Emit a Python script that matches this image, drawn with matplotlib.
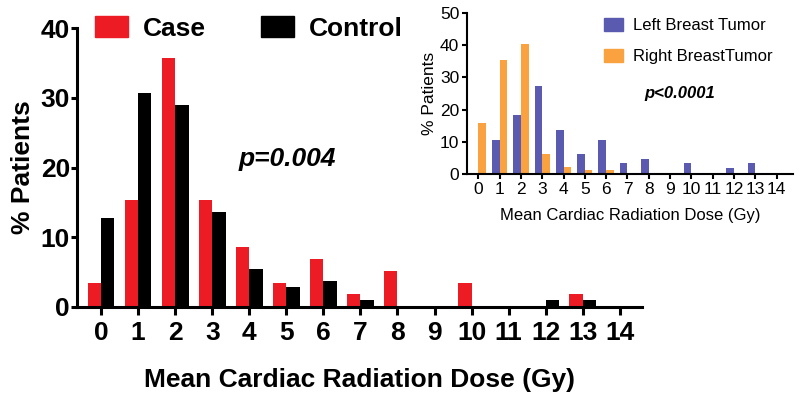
import numpy as np
import matplotlib
matplotlib.use("Agg")
import matplotlib.pyplot as plt
from matplotlib.patches import Patch

plt.rcParams["font.family"] = ["Liberation Sans", "DejaVu Sans"]

# -------- Data --------
doses = list(range(15))
case_pct    = [3.5, 15.4, 35.7, 15.4, 8.6, 3.5, 6.9, 1.8, 5.2, 0, 3.5, 0, 0, 1.8, 0]
control_pct = [12.7, 30.7, 28.9, 13.6, 5.5, 2.9, 3.7, 1.05, 0, 0, 0, 0, 1.05, 1.05, 0]

left_pct  = [0, 10.7, 18.3, 27.3, 13.8, 6.2, 10.7, 3.3, 4.6, 0, 3.3, 0, 1.8, 3.3, 0]
right_pct = [15.9, 35.3, 40.2, 6.1, 2.2, 1.2, 1.2, 0, 0, 0, 0, 0, 0, 0, 0]

RED = "#ED1C24"
BLUE = "#5A5AB0"
ORANGE = "#F9A23F"

x = np.array(doses)
w = 0.36

fig = plt.figure(figsize=(8, 4), dpi=100)

# -------- Main chart --------
ax = fig.add_axes([0.09625, 0.2325, 0.70625, 0.6975])
ax.bar(x - w / 2, case_pct, w, color=RED, label="Case")
ax.bar(x + w / 2, control_pct, w, color="black", label="Control")
ax.set_xlim(-0.65, 14.6)
ax.set_ylim(0, 40)
ax.set_xticks(doses)
ax.set_yticks([0, 10, 20, 30, 40])
for s in ["top", "right"]:
    ax.spines[s].set_visible(False)
for s in ["left", "bottom"]:
    ax.spines[s].set_linewidth(2.2)
ax.tick_params(axis="y", direction="out", length=4, width=2.2, pad=1, labelsize=19)
ax.tick_params(axis="x", direction="out", length=6, width=2.2, pad=4, labelsize=19)
for lab in ax.get_xticklabels() + ax.get_yticklabels():
    lab.set_fontweight("bold")
ax.set_ylabel("% Patients", fontsize=19, fontweight="bold", labelpad=4)
ax.set_xlabel("Mean Cardiac Radiation Dose (Gy)", fontsize=19, fontweight="bold", labelpad=17)
ax.text(3.7, 20.2, "p=0.004", fontsize=19, fontweight="bold", style="italic")

handles = [Patch(color=RED, label="Case"), Patch(color="black", label="Control")]
ax.legend(handles=handles, ncol=2, frameon=False, loc="upper left",
          bbox_to_anchor=(0.014, 1.08),
          prop={"weight": "bold", "size": 19},
          handlelength=1.25, handleheight=0.85, handletextpad=0.55,
          columnspacing=2.1, borderaxespad=0)

# -------- Inset chart --------
ax2 = fig.add_axes([0.58375, 0.565, 0.4075, 0.403])
ax2.bar(x - w / 2, left_pct, w, color=BLUE, label="Left Breast Tumor")
ax2.bar(x + w / 2, right_pct, w, color=ORANGE, label="Right BreastTumor")
ax2.set_xlim(-0.53, 14.77)
ax2.set_ylim(0, 50)
ax2.set_xticks(doses)
ax2.set_yticks([0, 10, 20, 30, 40, 50])
for s in ["top", "right"]:
    ax2.spines[s].set_visible(False)
for s in ["left", "bottom"]:
    ax2.spines[s].set_linewidth(1.5)
ax2.tick_params(direction="out", length=3.5, width=1.5, pad=2, labelsize=12.5)
ax2.set_ylabel("% Patients", fontsize=12.5, labelpad=2)
ax2.set_xlabel("Mean Cardiac Radiation Dose (Gy)", fontsize=12, labelpad=8)
ax2.text(7.8, 23.5, "p<0.0001", fontsize=12, fontweight="bold", style="italic")
handles2 = [Patch(color=BLUE, label="Left Breast Tumor"),
            Patch(color=ORANGE, label="Right BreastTumor")]
ax2.legend(handles=handles2, frameon=False, loc="upper left",
           bbox_to_anchor=(0.40, 1.01), fontsize=12,
           handlelength=1.15, handleheight=0.8, handletextpad=0.6,
           labelspacing=0.95, borderaxespad=0)

fig.savefig("out.png", dpi=100)
